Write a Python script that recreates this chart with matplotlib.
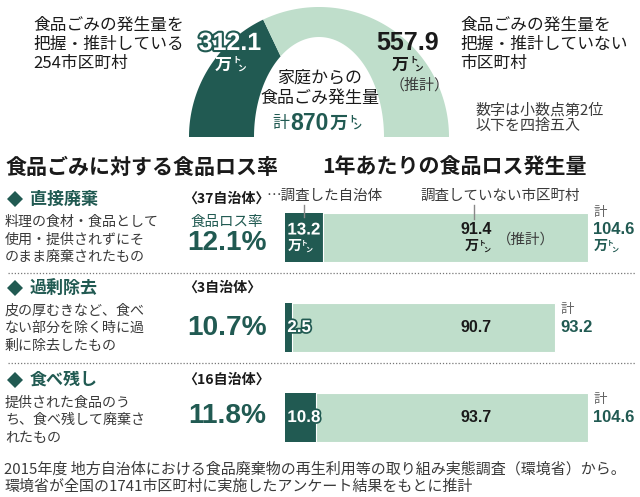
import matplotlib
matplotlib.use('Agg')
import matplotlib.pyplot as plt
from matplotlib import font_manager as fm
from matplotlib.patches import Polygon
from matplotlib.transforms import offset_copy
import matplotlib.patheffects as pe
import numpy as np

# ---------------- data ----------------
household_values = [312.1, 557.9]          # 把握・推計している / していない (万トン)
household_total = 870
categories = ['直接廃棄', '過剰除去', '食べ残し']
surveyed_counts = ['37', '3', '16']
loss_rates = ['12.1%', '10.7%', '11.8%']
surveyed_loss = [13.2, 2.5, 10.8]
unsurveyed_loss = [91.4, 90.7, 93.7]
total_loss = [104.6, 93.2, 104.6]
descriptions = [
    ['料理の食材・食品として', '使用・提供されずにそ', 'のまま廃棄されたもの'],
    ['皮の厚むきなど、食べ', 'ない部分を除く時に過', '剰に除去したもの'],
    ['提供された食品のう', 'ち、食べ残して廃棄さ', 'れたもの'],
]
footer = ['2015年度 地方自治体における食品廃棄物の再生利用等の取り組み実態調査（環境省）から。',
          '環境省が全国の1741市区町村に実施したアンケート結果をもとに推計']

# ---------------- style ----------------
DARK = '#215a52'
LIGHT = '#bfdecb'
INK = '#1a1a1a'
GRAY = '#3a3a3a'
names = {f.name for f in fm.fontManager.ttflist}
NUMF = 'Liberation Sans Narrow' if 'Liberation Sans Narrow' in names else 'Liberation Sans'
JP = ['Noto Sans CJK JP', 'DejaVu Sans']
NUM = [NUMF, 'DejaVu Sans']
PT = 0.72  # px -> pt at dpi 100

fig = plt.figure(figsize=(6.4, 4.97), dpi=100)
ax = fig.add_axes([0, 0, 1, 1])
ax.set_xlim(0, 640)
ax.set_ylim(497, 0)
ax.axis('off')


def T(x, y, s, px, fam=JP, color=INK, ha='left', va='center', weight='normal', a=None, **kw):
    a = a or ax
    return a.text(x, y, s, fontsize=px * PT, family=fam, color=color, ha=ha, va=va,
                  weight=weight, **kw)


def unit(x, y, px, color, a=None):
    a = a or ax
    base = a.transData
    a.text(x, y, '万', fontsize=px * PT, family=JP, color=color, weight='bold',
           ha='left', va='center', transform=base)
    a.text(x, y, 'ト', fontsize=px * 0.5 * PT, family=JP, color=color, weight='bold',
           ha='left', va='center',
           transform=offset_copy(base, fig, x=px * 1.0, y=px * 0.25, units='dots'))
    a.text(x, y, 'ン', fontsize=px * 0.5 * PT, family=JP, color=color, weight='bold',
           ha='left', va='center',
           transform=offset_copy(base, fig, x=px * 1.3, y=-px * 0.2, units='dots'))


# ---------------- half donut ----------------
cx, cy, R, rx, ry = 319, 137, 130, 65, 100
tot = sum(household_values)
edges = [180.0]
for v in household_values:
    edges.append(edges[-1] - 180.0 * v / tot)
for i, col in enumerate([DARK, LIGHT]):
    a0, a1 = edges[i], edges[i + 1]
    th = np.radians(np.linspace(a0, a1, 120))
    outer = np.c_[cx + R * np.cos(th), cy - R * np.sin(th)]
    rin = 1.0 / np.sqrt(np.cos(th) ** 2 / rx ** 2 + np.sin(th) ** 2 / ry ** 2)
    inner = np.c_[cx + rin * np.cos(th), cy - rin * np.sin(th)][::-1]
    ax.add_patch(Polygon(np.vstack([outer, inner]), closed=True, fc=col, ec='none'))

# top texts
for i, line in enumerate(['食品ごみの発生量を', '把握・推計している', '254市区町村']):
    T(33, 25 + i * 19, line, 16.7)
for i, line in enumerate(['食品ごみの発生量を', '把握・推計していない', '市区町村']):
    T(460, 25 + i * 19, line, 16.7)
T(475, 110, '数字は小数点第2位', 15, color=GRAY)
T(475, 126, '以下を四捨五入', 15, color=GRAY)

T(230, 43, f'{household_values[0]:.1f}', 25, fam=NUM, weight='bold', color='white', ha='center',
  path_effects=[pe.withStroke(linewidth=3, foreground=DARK)])
unit(215, 65, 17, 'white')
T(408, 43, f'{household_values[1]:.1f}', 25, fam=NUM, weight='bold', color=INK, ha='center')
unit(392, 65, 17, INK)
T(420, 85, '（推計）', 15, color=GRAY, ha='center')

T(320, 78, '家庭からの', 17, ha='center')
T(320, 98, '食品ごみ発生量', 17, ha='center')
T(272, 123, '計', 17, color=DARK)
T(290, 123, f'{household_total}', 23, fam=NUM, weight='bold', color=DARK)
unit(330, 124, 18, DARK)

# ---------------- section titles ----------------
T(5, 167, '食品ごみに対する食品ロス率', 21, weight='bold')
T(322, 167, '1年あたりの食品ロス発生量', 21, weight='bold')

# ---------------- rows ----------------
header_y = [199, 288, 380]
bar_y = [237.5, 327.5, 417.5]
pct_y = [243, 328, 416]
for i in range(3):
    hy = header_y[i]
    ax.add_patch(Polygon([(7, hy), (15, hy - 8), (23, hy), (15, hy + 8)], closed=True,
                         fc=DARK, ec='none'))
    T(30, hy, categories[i], 17, weight='bold', color=DARK)
    for j, line in enumerate(descriptions[i]):
        T(5, hy + 23 + j * 17.3, line, 14, color=GRAY)
    T(183, hy, f'〈{surveyed_counts[i]}自治体〉', 14, weight='bold')
    T(227, pct_y[i], loss_rates[i], 28, fam=NUM, weight='bold', color=DARK, ha='center')
T(227, 222, '食品ロス率', 14.5, color=DARK, ha='center')
T(266, 196, '…調査した自治体', 14.5, color=GRAY)
T(420, 196, '調査していない市区町村', 14.5, color=GRAY)

for yy in [273, 363]:
    ax.plot([8, 635], [yy, yy], color='#777777', lw=0.9, ls=(0, (1, 1.5)))

# ---------------- bars ----------------
PXU = 2.9           # pixels per 万トン
XMAX = 110
bax = fig.add_axes([285 / 640, 0, XMAX * PXU / 640, 1])
bax.set_xlim(0, XMAX)
bax.set_ylim(497, 0)
bax.axis('off')
bax.patch.set_alpha(0)
bh = 49
bax.barh(bar_y, surveyed_loss, height=bh, color=DARK, edgecolor='none')
bax.barh(bar_y, unsurveyed_loss, left=surveyed_loss, height=bh, color=LIGHT,
         edgecolor='white', linewidth=0.8)

for i in range(3):
    y = bar_y[i]
    vy = y - 7.5 if i == 0 else y
    T(0.8, vy, f'{surveyed_loss[i]:.1f}', 17, fam=NUM, weight='bold', color='white', a=bax,
      path_effects=[pe.withStroke(linewidth=2.5, foreground=DARK)])
    T(66, vy, f'{unsurveyed_loss[i]:.1f}', 16, fam=NUM, weight='bold', color=INK, ha='center', a=bax)
    T(total_loss[i] + 1.7, vy, f'{total_loss[i]:.1f}', 16.5, fam=NUM, weight='bold', color=DARK, a=bax)
    T(total_loss[i] + 1.7, y - 25.5 if i == 0 else y - 18, '計', 13.5, color='#666666', a=bax)

# row-1 unit marks and leaders
unit(0.8, 246, 14, 'white', a=bax)
unit(62, 246, 14, INK, a=bax)
unit(total_loss[0] + 1.7, 246, 14, DARK, a=bax)
T(73, 240, '（推計）', 14.5, color=GRAY, a=bax)
bax.plot([surveyed_loss[0] / 2, surveyed_loss[0] / 2], [205, 217], color='#888888', lw=1)
bax.plot([65, 65], [205, 219], color='#888888', lw=1)

# ---------------- footer ----------------
T(4, 469, footer[0], 15, color=GRAY)
T(4, 487, footer[1], 15, color=GRAY)

fig.savefig('out.png', dpi=100)
